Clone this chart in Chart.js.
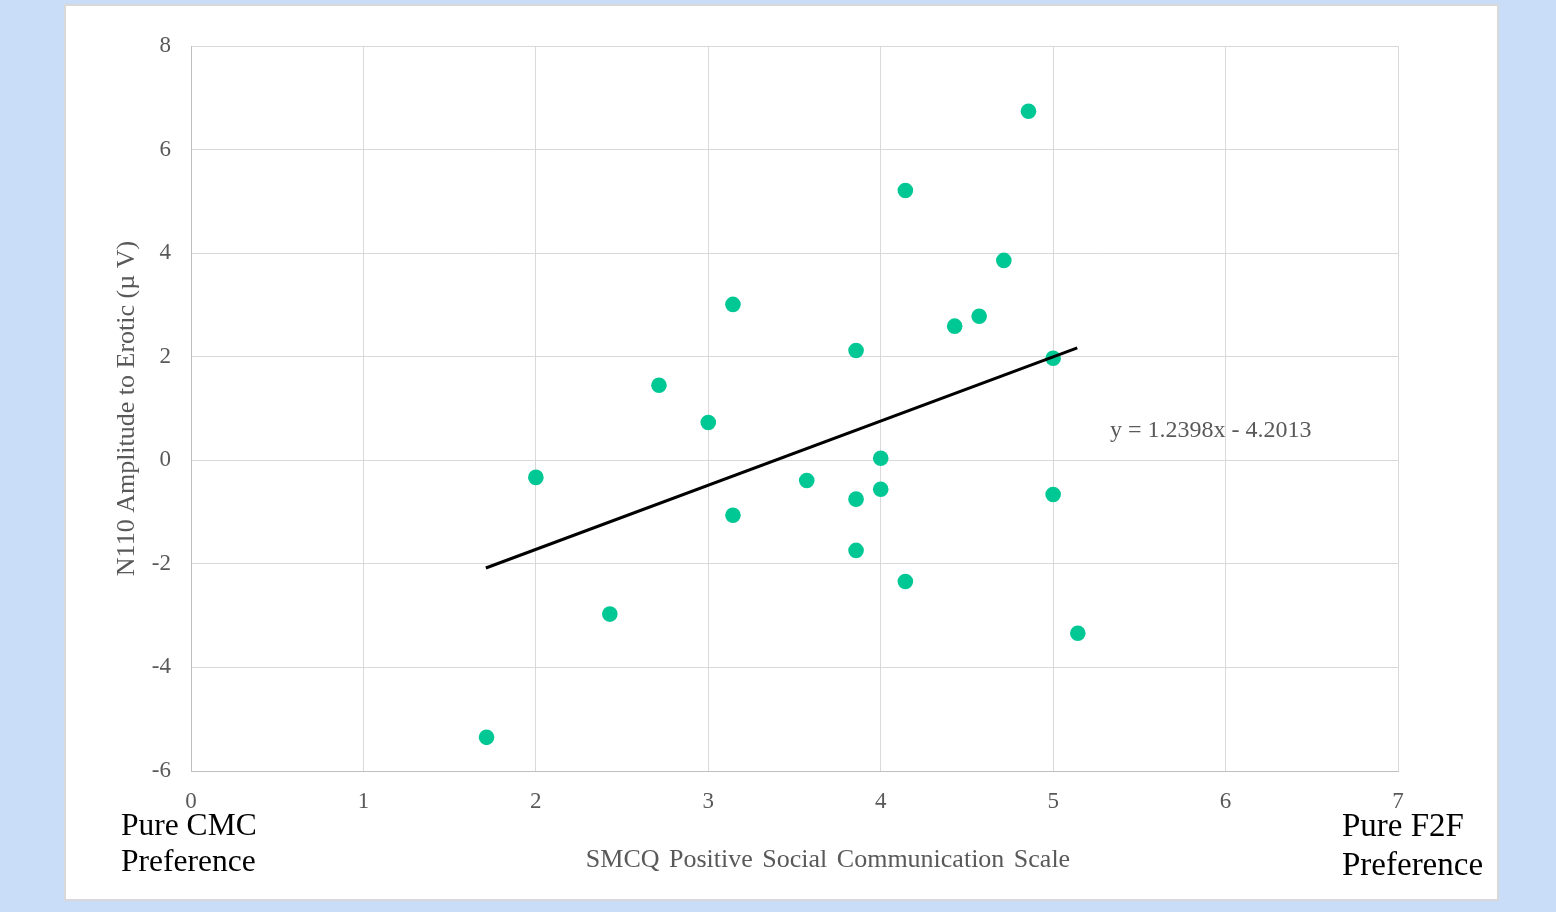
<!DOCTYPE html>
<html>
<head>
<meta charset="utf-8">
<script src="https://cdn.jsdelivr.net/npm/chart.js@4/dist/chart.umd.min.js"></script>
<style>
  html,body{margin:0;padding:0;background:#c9dcf8;}
  canvas{display:block;}
</style>
</head>
<body>
<canvas id="c" width="1556" height="912"></canvas>
<script>
// Data
const xValues = [1.714, 2.0, 2.429, 2.714, 3.0, 3.143, 3.143, 3.571, 3.857, 3.857, 3.857, 4.0, 4.0, 4.143, 4.143, 4.429, 4.571, 4.714, 4.857, 5.0, 5.0, 5.143];
const yValues = [-5.35, -0.33, -2.97, 1.45, 0.73, 3.01, -1.06, -0.39, 2.12, -0.75, -1.74, 0.04, -0.56, 5.21, -2.34, 2.59, 2.78, 3.86, 6.74, 1.97, -0.66, -3.34];
const trendX = [1.71, 5.14];
const trendY = [-2.08, 2.17];
const xTicks = [0, 1, 2, 3, 4, 5, 6, 7];
const yTicks = [-6, -4, -2, 0, 2, 4, 6, 8];
const xTitle = 'SMCQ Positive Social Communication Scale';
const yTitle = 'N110 Amplitude to Erotic (\u00b5 V)';
const equation = 'y = 1.2398x - 4.2013';
const leftLabel = ['Pure CMC', 'Preference'];
const rightLabel = ['Pure F2F', 'Preference'];

const points = xValues.map((x, i) => ({x: x, y: yValues[i]}));
const trend = trendX.map((x, i) => ({x: x, y: trendY[i]}));

const SERIF = '"Liberation Serif", "Times New Roman", serif';
const GREY = '#595959';

const panelPlugin = {
  id: 'panel',
  beforeDraw(chart) {
    const ctx = chart.ctx;
    ctx.save();
    ctx.fillStyle = '#ffffff';
    ctx.fillRect(65, 5, 1433, 895);
    ctx.strokeStyle = '#d9d9d9';
    ctx.lineWidth = 2;
    ctx.strokeRect(65, 5, 1433, 895);
    ctx.restore();
  },
  afterDraw(chart) {
    const ctx = chart.ctx;
    ctx.save();
    ctx.textBaseline = 'middle';
    ctx.textAlign = 'left';
    ctx.fillStyle = GREY;
    ctx.font = '24px ' + SERIF;
    ctx.fillText(equation, 1110, 431);
    ctx.textAlign = 'center';
    ctx.font = '26px ' + SERIF;
    if ('wordSpacing' in ctx) ctx.wordSpacing = '3px';
    ctx.fillText(xTitle, 828, 860);
    if ('wordSpacing' in ctx) ctx.wordSpacing = '0px';
    ctx.textAlign = 'left';
    ctx.fillStyle = '#000000';
    ctx.font = '31.5px ' + SERIF;
    ctx.fillText(leftLabel[0], 121, 827);
    ctx.fillText(leftLabel[1], 121, 863);
    ctx.font = '33px ' + SERIF;
    ctx.fillText(rightLabel[0], 1342, 827);
    ctx.fillText(rightLabel[1], 1342, 866);
    ctx.restore();
  }
};

new Chart(document.getElementById('c'), {
  type: 'scatter',
  data: {
    datasets: [
      {
        type: 'line',
        label: 'Trend',
        data: trend,
        borderColor: '#000000',
        borderWidth: 3,
        pointRadius: 0,
        fill: false,
        order: 0
      },
      {
        label: 'N110',
        data: points,
        backgroundColor: '#00c895',
        borderWidth: 0,
        pointRadius: 7.8,
        pointHoverRadius: 7.8,
        order: 1
      }
    ]
  },
  plugins: [panelPlugin],
  options: {
    responsive: false,
    animation: false,
    devicePixelRatio: 1,
    layout: {padding: {left: 112, top: 46, right: 158, bottom: 0}},
    plugins: {legend: {display: false}, tooltip: {enabled: false}},
    scales: {
      x: {
        type: 'linear',
        min: 0, max: 7,
        afterBuildTicks(scale) { scale.ticks = xTicks.map(v => ({value: v})); },
        afterFit(scale) { scale.height = 141; },
        grid: {color: '#d9d9d9', lineWidth: 1, drawTicks: false},
        border: {color: '#bfbfbf', width: 1},
        ticks: {padding: 17, color: GREY, font: {family: SERIF, size: 23}}
      },
      y: {
        type: 'linear',
        min: -6, max: 8,
        afterBuildTicks(scale) { scale.ticks = yTicks.map(v => ({value: v})); },
        afterFit(scale) { scale.width = 79; },
        grid: {color: '#d9d9d9', lineWidth: 1, drawTicks: false},
        border: {color: '#bfbfbf', width: 1},
        ticks: {padding: 20, color: GREY, font: {family: SERIF, size: 23}},
        title: {display: true, text: yTitle, color: GREY, padding: 0, font: {family: SERIF, size: 26}}
      }
    }
  }
});
</script>
</body>
</html>
